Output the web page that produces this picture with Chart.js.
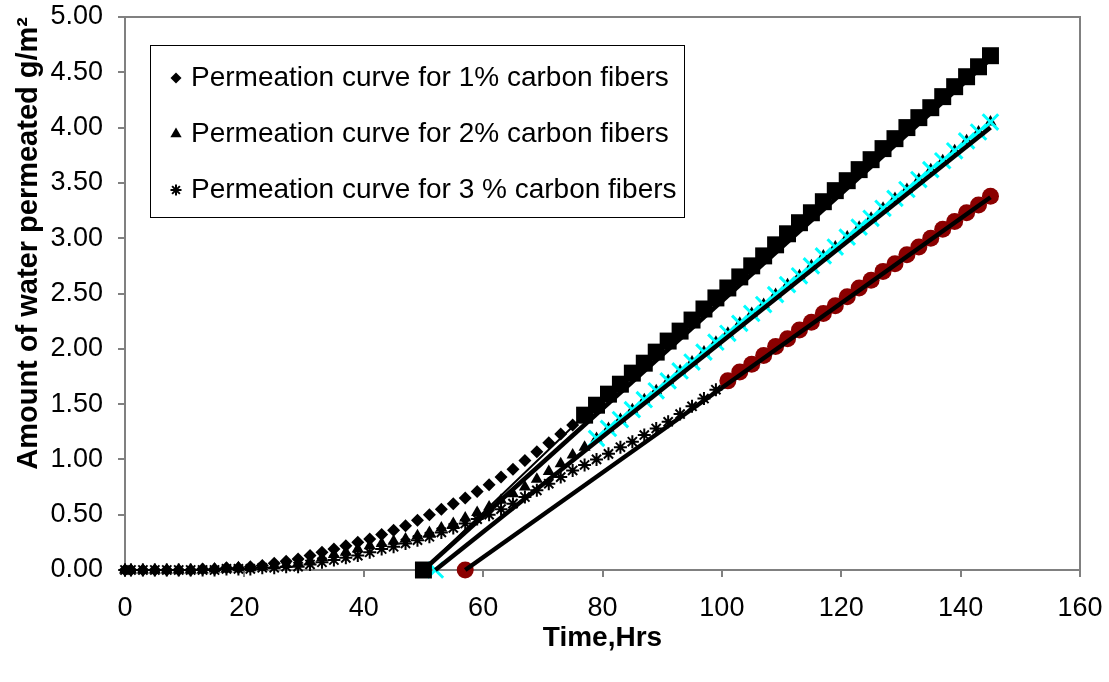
<!DOCTYPE html>
<html>
<head>
<meta charset="utf-8">
<title>Water permeation through carbon fiber composites</title>
<script src="https://cdn.jsdelivr.net/npm/chart.js@4/dist/chart.umd.min.js"></script>
<style>
  html, body { margin: 0; padding: 0; background: #fff; }
  #wrap { width: 1109px; height: 682px; }
</style>
</head>
<body>
<div id="wrap"><canvas id="permeationChart" width="1109" height="682"></canvas></div>
<script>
// time of each reading, hours
const hours = [0, 1, 3, 5, 7, 9, 11, 13, 15, 17, 19, 21, 23, 25, 27, 29, 31, 33, 35, 37,
  39, 41, 43, 45, 47, 49, 51, 53, 55, 57, 59, 61, 63, 65, 67, 69, 71, 73, 75, 77,
  79, 81, 83, 85, 87, 89, 91, 93, 95, 97, 99, 101, 103, 105, 107, 109, 111, 113, 115, 117,
  119, 121, 123, 125, 127, 129, 131, 133, 135, 137, 139, 141, 143, 145];

// water permeated, g/m2
const pct1 = [0.00, 0.00, 0.00, 0.00, 0.00, 0.00, 0.00, 0.01, 0.01, 0.02, 0.02, 0.03, 0.04, 0.06, 0.08, 0.10, 0.13, 0.16, 0.19, 0.22,
  0.25, 0.28, 0.32, 0.36, 0.40, 0.45, 0.50, 0.55, 0.60, 0.65, 0.71, 0.77, 0.84, 0.91, 0.99, 1.07, 1.15, 1.23, 1.31, 1.40,
  1.49, 1.59, 1.68, 1.78, 1.87, 1.97, 2.07, 2.16, 2.26, 2.36, 2.46, 2.55, 2.65, 2.75, 2.84, 2.94, 3.04, 3.14, 3.23, 3.33,
  3.43, 3.52, 3.62, 3.71, 3.81, 3.90, 4.00, 4.09, 4.18, 4.28, 4.37, 4.46, 4.55, 4.65];
const pct2 = [0.00, 0.00, 0.00, 0.00, 0.00, 0.00, 0.00, 0.00, 0.01, 0.01, 0.02, 0.02, 0.03, 0.04, 0.05, 0.06, 0.08, 0.11, 0.14, 0.16,
  0.19, 0.22, 0.24, 0.26, 0.28, 0.31, 0.34, 0.38, 0.42, 0.47, 0.52, 0.57, 0.63, 0.69, 0.75, 0.82, 0.89, 0.96, 1.04, 1.11,
  1.19, 1.28, 1.36, 1.45, 1.54, 1.62, 1.71, 1.80, 1.88, 1.97, 2.06, 2.14, 2.23, 2.32, 2.40, 2.49, 2.58, 2.66, 2.75, 2.84,
  2.92, 3.01, 3.10, 3.18, 3.27, 3.36, 3.44, 3.53, 3.62, 3.70, 3.79, 3.88, 3.96, 4.05];
const pct3 = [0.00, 0.00, 0.00, 0.00, 0.00, 0.00, 0.00, 0.00, 0.00, 0.01, 0.01, 0.01, 0.02, 0.02, 0.03, 0.03, 0.05, 0.07, 0.09, 0.11,
  0.13, 0.16, 0.19, 0.21, 0.24, 0.27, 0.30, 0.34, 0.38, 0.42, 0.46, 0.50, 0.55, 0.60, 0.66, 0.72, 0.78, 0.84, 0.90, 0.95,
  1.00, 1.05, 1.11, 1.16, 1.22, 1.28, 1.34, 1.41, 1.48, 1.55, 1.63, 1.71, 1.79, 1.86, 1.94, 2.02, 2.09, 2.17, 2.24, 2.32,
  2.39, 2.47, 2.55, 2.62, 2.70, 2.77, 2.85, 2.92, 3.00, 3.08, 3.15, 3.23, 3.30, 3.38];

const seriesNames = [
  "Permeation curve for 1% carbon fibers",
  "Permeation curve for 2% carbon fibers",
  "Permeation curve for 3 % carbon fibers"
];

// steady-state part of each curve starts here (hrs)
const steadyFrom = [77, 79, 101];
// time-lag: where the steady-state line meets the time axis (hrs)
const lagTime = [50, 52, 57];
// steady-state line at the last reading
const fitEndTime = 145;
const fitEndValue = [4.62, 4.00, 3.37];

const xTicks = { min: 0, max: 160, step: 20 };
const yTicks = { min: 0, max: 5, step: 0.5 };

const FONT = 'Arial, "Liberation Sans", sans-serif';
Chart.defaults.font.family = FONT;
Chart.defaults.color = "#000";

const toPoints = (ys) => hours.map((h, i) => ({ x: h, y: ys[i] }));
const raw = [pct1, pct2, pct3].map(toPoints);

// lag point on the axis + readings in the linear region
const steady = raw.map((pts, i) =>
  [{ x: lagTime[i], y: 0 }].concat(pts.filter(p => p.x >= steadyFrom[i]))
);

const fits = lagTime.map((t0, i) => [{ x: t0, y: 0 }, { x: fitEndTime, y: fitEndValue[i] }]);

const rawStyles = [
  { pointStyle: "rectRot", pointRadius: 6.5, pointBorderWidth: 0 },
  { pointStyle: "triangle", pointRadius: 7, pointBorderWidth: 0 },
  { pointStyle: "star", pointRadius: 6.5, pointBorderWidth: 2 }
];

const datasets = [];

raw.forEach((pts, i) => {
  datasets.push(Object.assign({
    label: seriesNames[i],
    data: pts,
    backgroundColor: "#000",
    borderColor: "#000",
    showLine: false,
    clip: false,
    order: 5
  }, rawStyles[i]));
});

datasets.push({
  label: "steady 1%",
  data: steady[0],
  pointStyle: "rect",
  pointRadius: 12,
  pointBorderWidth: 0,
  backgroundColor: "#000",
  borderColor: "#000",
  borderWidth: 2,
  showLine: true,
  clip: false,
  order: 3
});
datasets.push({
  label: "steady 2%",
  data: steady[1],
  pointStyle: "crossRot",
  pointRadius: 11,
  pointBorderWidth: 3,
  pointBorderColor: "#00ffff",
  backgroundColor: "#00ffff",
  showLine: false,
  clip: false,
  order: 3
});
datasets.push({
  label: "steady 3%",
  data: steady[2],
  pointStyle: "circle",
  pointRadius: 8.5,
  pointBorderWidth: 0,
  backgroundColor: "#8b0000",
  showLine: false,
  clip: false,
  order: 3
});

fits.forEach((pts, i) => {
  datasets.push({
    label: "fit " + (i + 1),
    data: pts,
    showLine: true,
    pointRadius: 0,
    borderColor: "#000",
    borderWidth: 4.5,
    clip: false,
    order: 1
  });
});

// grey frame on the top and right of the plot
const plotFrame = {
  id: "plotFrame",
  beforeDatasetsDraw(chart) {
    const { ctx, chartArea: a } = chart;
    ctx.save();
    ctx.strokeStyle = "#808080";
    ctx.lineWidth = 2;
    ctx.beginPath();
    ctx.moveTo(a.left, a.top);
    ctx.lineTo(a.right, a.top);
    ctx.lineTo(a.right, a.bottom);
    ctx.stroke();
    ctx.restore();
  }
};

// boxed legend inside the plot, only the measured curves
const boxLegend = {
  id: "boxLegend",
  afterDraw(chart) {
    const { ctx, chartArea: a } = chart;
    const left = a.left + 25, top = a.top + 28, w = 534, h = 172;
    ctx.save();
    ctx.fillStyle = "#fff";
    ctx.fillRect(left, top, w, h);
    ctx.strokeStyle = "#000";
    ctx.lineWidth = 1;
    ctx.strokeRect(left + 0.5, top + 0.5, w, h);

    const legendMarks = [
      { pointStyle: "rectRot", radius: 5.5, borderWidth: 0 },
      { pointStyle: "triangle", radius: 6.5, borderWidth: 0 },
      { pointStyle: "star", radius: 5.5, borderWidth: 2 }
    ];
    ctx.font = "28px " + FONT;
    ctx.textBaseline = "middle";
    seriesNames.forEach((name, i) => {
      const y = top + 33 + i * 56;
      ctx.fillStyle = "#000";
      ctx.strokeStyle = "#000";
      ctx.lineWidth = legendMarks[i].borderWidth || 1;
      Chart.helpers.drawPoint(ctx, Object.assign({ rotation: 0 }, legendMarks[i]), left + 26, y);
      ctx.fillStyle = "#000";
      ctx.fillText(name, left + 41, y);
    });
    ctx.restore();
  }
};

new Chart(document.getElementById("permeationChart"), {
  type: "scatter",
  data: { datasets },
  options: {
    responsive: false,
    animation: false,
    events: [],
    layout: { padding: { top: 17, right: 29, left: 0, bottom: 0 } },
    plugins: {
      legend: { display: false },
      tooltip: { enabled: false }
    },
    scales: {
      x: {
        type: "linear",
        min: xTicks.min,
        max: xTicks.max,
        border: { display: true, color: "#808080", width: 2 },
        grid: { display: true, drawOnChartArea: false, drawTicks: true, tickLength: 7, color: "#808080", lineWidth: 2 },
        ticks: { stepSize: xTicks.step, color: "#000", font: { size: 27 }, padding: 15, maxRotation: 0 },
        title: {
          display: true,
          text: "Time,Hrs",
          color: "#000",
          font: { size: 28, weight: "bold" },
          padding: { top: 0, bottom: 27 }
        },
        afterFit(scale) {
          scale.height = 112;
          scale.paddingLeft = 0;
          scale.paddingRight = 0;
        }
      },
      y: {
        type: "linear",
        min: yTicks.min,
        max: yTicks.max,
        border: { display: true, color: "#808080", width: 2 },
        grid: { display: true, drawOnChartArea: false, drawTicks: true, tickLength: 7, color: "#808080", lineWidth: 2 },
        ticks: {
          stepSize: yTicks.step,
          color: "#000",
          font: { size: 27 },
          padding: 15,
          callback: v => Number(v).toFixed(2)
        },
        title: {
          display: true,
          text: "Amount of water permeated g/m²",
          align: "end",
          color: "#000",
          font: { size: 29, weight: "bold" },
          padding: { top: 12, bottom: 0 }
        },
        afterFit(scale) {
          scale.width = 125;
          scale.paddingTop = 0;
          scale.paddingBottom = 0;
        }
      }
    }
  },
  plugins: [plotFrame, boxLegend]
});
</script>
</body>
</html>
